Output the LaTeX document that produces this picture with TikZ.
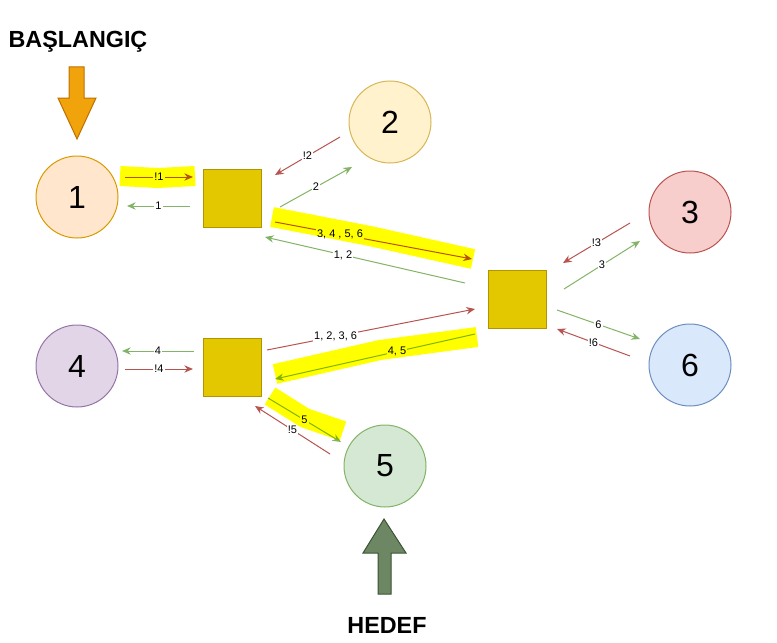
\documentclass[tikz,border=0pt]{standalone}
\usepackage{fontspec}
\setmainfont{Liberation Sans}
\usetikzlibrary{arrows.meta}
\definecolor{c1f}{HTML}{FFE6CC}\definecolor{c1d}{HTML}{D79B00}
\definecolor{c2f}{HTML}{FFF2CC}\definecolor{c2d}{HTML}{D6B656}
\definecolor{c3f}{HTML}{F8CECC}\definecolor{c3d}{HTML}{B85450}
\definecolor{c4f}{HTML}{E1D5E7}\definecolor{c4d}{HTML}{9673A6}
\definecolor{c5f}{HTML}{D5E8D4}\definecolor{c5d}{HTML}{82B366}
\definecolor{c6f}{HTML}{DAE8FC}\definecolor{c6d}{HTML}{6C8EBF}
\definecolor{boxf}{HTML}{E3C800}\definecolor{boxd}{HTML}{B09500}
\definecolor{noc}{HTML}{B85450}\definecolor{okc}{HTML}{82B366}
\definecolor{hly}{HTML}{FFFF00}
\definecolor{startf}{HTML}{F0A30A}\definecolor{startd}{HTML}{BD7000}
\definecolor{goalf}{HTML}{6D8764}\definecolor{goald}{HTML}{3A5431}

\begin{document}
\begin{tikzpicture}[x=0.75pt,y=-0.75pt]
	\tikzset{place/.style 2 args={draw=#2, fill=#1, circle, minimum size=61.5pt, inner sep=0pt, line width=0.75pt, font=\fontsize{24}{24}\selectfont},
		box/.style={draw=boxd, fill=boxf, minimum size=43.5pt, inner sep=0pt, line width=0.75pt},
		no/.style={draw=noc, line width=0.75pt, -{Stealth[length=6.5pt,width=5.5pt]}},
		ok/.style={draw=okc, line width=0.75pt, -{Stealth[length=6.5pt,width=5.5pt]}},
		lbl/.style={fill=white, inner sep=0.8pt, font=\fontsize{8.25}{8.25}\selectfont},
		hl/.style={draw=hly, line width=15pt, line cap=butt, line join=round, blend mode=multiply},
		title/.style={font=\bfseries\fontsize{17.5}{17.5}\selectfont}};
	\useasboundingbox (0,0) rectangle (777,642);
	
	\node[place={c1f}{c1d}] (1) at (77,197) {1};
	\node[place={c2f}{c2d}] (2) at (390,122) {2};
	\node[place={c3f}{c3d}] (3) at (690,212) {3};
	\node[place={c4f}{c4d}] (4) at (77,366) {4};
	\node[place={c5f}{c5d}] (5) at (385,466) {5};
	\node[place={c6f}{c6d}] (6) at (690,365) {6};
	
	\node[box] (a) at (232,198) {};
	\node[box] (b) at (232,367) {};
	\node[box] (c) at (517,299) {};
	
	\node[title] (start) at (78,42) {BAŞLANGIÇ};
	\node[title] (goal) at (387,625) {HEDEF};
	
	\draw[fill=startf, draw=startd, line width=0.75pt] (69,67) -- (84,67) -- (84,98) -- (96,98) -- (77,139) -- (58,98) -- (69,98) -- cycle;
	\draw[fill=goalf, draw=goald, line width=0.75pt] (378,594) -- (391,594) -- (391,553) -- (406,553) -- (384,519) -- (363,553) -- (378,553) -- cycle;
	
	% free ends of the connectors
	\coordinate (n1a) at (125,177); \coordinate (n1b) at (193,177);
	\coordinate (o1a) at (190,206); \coordinate (o1b) at (127,206);
	\coordinate (n2a) at (340,137); \coordinate (n2b) at (275,175);
	\coordinate (o2a) at (280,207); \coordinate (o2b) at (352,167);
	\coordinate (ac1) at (275,222); \coordinate (ac2) at (472,259);
	\coordinate (ca1) at (465,283); \coordinate (ca2) at (265,237);
	\coordinate (n3a) at (630,223); \coordinate (n3b) at (563,263);
	\coordinate (o3a) at (564,289); \coordinate (o3b) at (640,241);
	\coordinate (o6a) at (557,310); \coordinate (o6b) at (640,339);
	\coordinate (n6a) at (630,356); \coordinate (n6b) at (557,329);
	\coordinate (o4a) at (194,351); \coordinate (o4b) at (122,351);
	\coordinate (n4a) at (125,369); \coordinate (n4b) at (193,369);
	\coordinate (bc1) at (267,350); \coordinate (bc2) at (475,309);
	\coordinate (cb1) at (475,334); \coordinate (cb2) at (275,379);
	\coordinate (o5a) at (268,398); \coordinate (o5b) at (341,442);
	\coordinate (n5a) at (330,454); \coordinate (n5b) at (255,406);
	
	\draw[no] (n1a) -- node[lbl] {!1} (n1b);
	\draw[ok] (o1a) -- node[lbl] {1} (o1b);
	\draw[no] (n2a) -- node[lbl] {!2} (n2b);
	\draw[ok] (o2a) -- node[lbl] {2} (o2b);
	\draw[no] (ac1) -- node[lbl, pos=0.33] {3, 4 , 5, 6} (ac2);
	\draw[ok] (ca1) -- node[lbl, pos=0.61] {1, 2} (ca2);
	\draw[no] (n3a) -- node[lbl] {!3} (n3b);
	\draw[ok] (o3a) -- node[lbl] {3} (o3b);
	\draw[ok] (o6a) -- node[lbl] {6} (o6b);
	\draw[no] (n6a) -- node[lbl] {!6} (n6b);
	\draw[ok] (o4a) -- node[lbl] {4} (o4b);
	\draw[no] (n4a) -- node[lbl] {!4} (n4b);
	\draw[no] (bc1) -- node[lbl, pos=0.33] {1, 2, 3, 6} (bc2);
	\draw[ok] (cb1) -- node[lbl, pos=0.39] {4, 5} (cb2);
	\draw[ok] (o5a) -- node[lbl] {5} (o5b);
	\draw[no] (n5a) -- node[lbl] {!5} (n5b);
	
	% marker strokes over the chosen path
	\draw[hl] (120,176) -- (158,178) -- (195,176);
	\draw[hl] (272,217) -- (370,236) -- (473,259);
	\draw[hl] (275,374) -- (380,350) -- (477,337);
	\draw[hl] (270,396) -- (305,418) -- (343,431);
\end{tikzpicture}
\end{document}
